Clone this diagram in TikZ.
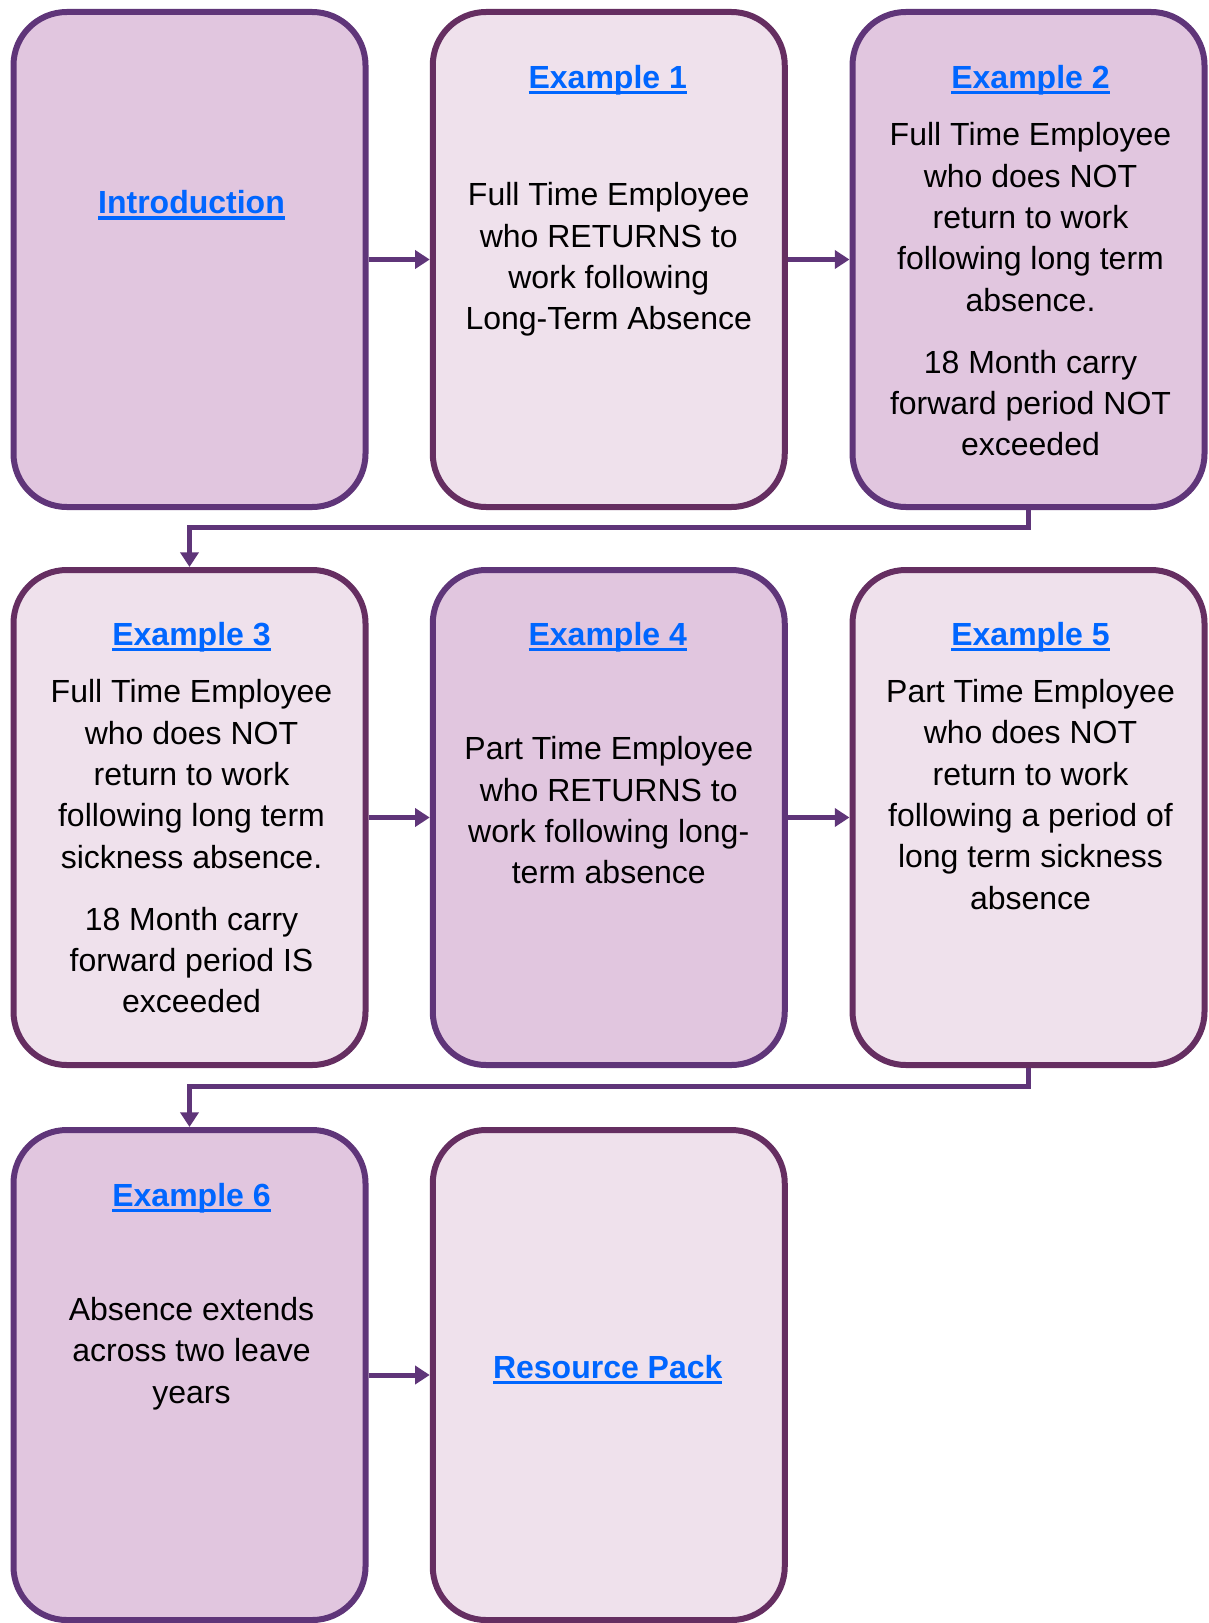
\documentclass[tikz,border=0pt]{standalone}
\usepackage{fontspec}
\setmainfont{Liberation Sans}
\usetikzlibrary{arrows.meta}
\definecolor{darkfill}{HTML}{E1C6DF}
\definecolor{lightfill}{HTML}{EFE1EC}
\definecolor{borderdark}{HTML}{5F3579}
\definecolor{borderlight}{HTML}{652E61}
\definecolor{arrowcol}{HTML}{5F3579}
\definecolor{linkblue}{HTML}{0066FF}
\newcommand\exlink[1]{\setbox0\hbox{#1}\rlap{\rule[-4.6pt]{\wd0}{2.6pt}}\box0}
\begin{document}
\begin{tikzpicture}[x=0.75pt,y=-0.75pt,
  boxbase/.style={rectangle, rounded corners=40pt, line width=4.5pt, minimum width=264pt, minimum height=371.25pt, inner sep=0pt},
  darkbox/.style={boxbase, fill=darkfill, draw=borderdark},
  lightbox/.style={boxbase, fill=lightfill, draw=borderlight},
  lastrow/.style={minimum height=367.5pt},
  body/.style={align=center, font=\fontsize{24pt}{31pt}\selectfont, text=black, inner sep=0pt},
  head/.style={anchor=base, font=\fontsize{24pt}{31pt}\selectfont\bfseries, text=linkblue, inner sep=0pt},
  arr/.style={draw=arrowcol, line width=3.75pt, -{Triangle[length=11pt,width=13.5pt]}}]
\useasboundingbox (0,0) rectangle (1208,1623);
% boxes
\node[darkbox]  (A) at (189.5,259.5) {};
\node[lightbox] (B) at (608.75,259.5) {};
\node[darkbox]  (C) at (1028.5,259.5) {};
\node[lightbox] (D) at (189.5,817.5) {};
\node[darkbox]  (E) at (608.75,817.5) {};
\node[lightbox] (F) at (1028.5,817.5) {};
\node[darkbox,lastrow]  (G) at (189.5,1375) {};
\node[lightbox,lastrow] (H) at (608.75,1375) {};
% headings
\node[head] (hA) at (191.5,213.5) {\exlink{Introduction}};
\node[head] (hB) at (607.75,88.3) {\exlink{Example 1}};
\node[head] (hC) at (1030.5,88.3) {\exlink{Example 2}};
\node[head] (hD) at (191.5,645.3) {\exlink{Example 3}};
\node[head] (hE) at (607.75,645.3) {\exlink{Example 4}};
\node[head] (hF) at (1030.5,645.3) {\exlink{Example 5}};
\node[head] (hG) at (191.5,1206.3) {\exlink{Example 6}};
\node[head] (hH) at (607.75,1378) {\exlink{Resource Pack}};
% body texts
\node[body] (tB) at (608.75,259.5) {Full Time Employee\\who RETURNS to\\work following\\Long-Term Absence};
\node[body] (tC) at (1030.5,289.5) {Full Time Employee\\who does NOT\\return to work\\following long term\\absence.\\[15.5pt]18 Month carry\\forward period NOT\\exceeded};
\node[body] (tD) at (191.5,846.5) {Full Time Employee\\who does NOT\\return to work\\following long term\\sickness absence.\\[15.5pt]18 Month carry\\forward period IS\\exceeded};
\node[body] (tE) at (608.75,810.5) {Part Time Employee\\who RETURNS to\\work following long-\\term absence};
\node[body] (tF) at (1030.5,794.5) {Part Time Employee\\who does NOT\\return to work\\following a period of\\long term sickness\\absence};
\node[body] (tG) at (191.5,1353.5) {Absence extends\\across two leave\\years};
% connectors
\coordinate (k1) at (0,527);
\coordinate (k2) at (0,1086);
\draw[arr] (A.east) -- (B.west);
\draw[arr] (B.east) -- (C.west);
\draw[arr] (C.south) -- (C.south |- k1) -| (D.north);
\draw[arr] (D.east) -- (E.west);
\draw[arr] (E.east) -- (F.west);
\draw[arr] (F.south) -- (F.south |- k2) -| (G.north);
\draw[arr] (G.east) -- (H.west);
\end{tikzpicture}
\end{document}
